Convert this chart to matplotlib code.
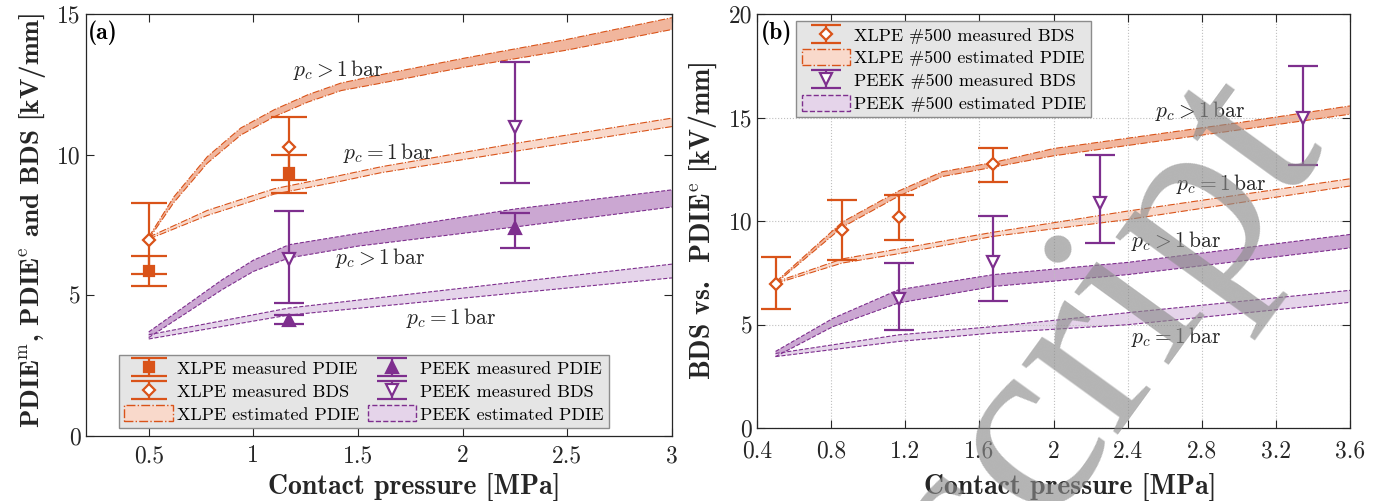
import matplotlib

matplotlib.use("Agg")

import matplotlib.pyplot as plt
from matplotlib.patches import Patch
from matplotlib.ticker import FuncFormatter

plt.rcParams["font.family"] = "serif"
plt.rcParams["font.serif"] = ["cmr10"]
plt.rcParams["mathtext.fontset"] = "cm"
plt.rcParams["axes.unicode_minus"] = False
plt.rcParams["axes.formatter.use_mathtext"] = False

XLPE = "#D95319"
PEEK = "#7E2F8E"
XLPE_HI = "#F1B69D"
XLPE_LO = "#F9D9CB"
PEEK_HI = "#CBA7D2"
PEEK_LO = "#E5D4EA"

# ---------------- panel (a): measured points (value, lower cap, upper cap)
a_xlpe_pdie_x = [0.5, 1.17]
a_xlpe_pdie_y = [5.87, 9.35]
a_xlpe_pdie_lo = [5.33, 8.64]
a_xlpe_pdie_hi = [6.40, 10.00]

a_xlpe_bds_x = [0.5, 1.17]
a_xlpe_bds_y = [6.97, 10.27]
a_xlpe_bds_lo = [5.76, 9.10]
a_xlpe_bds_hi = [8.28, 11.33]

a_peek_pdie_x = [1.17, 2.25]
a_peek_pdie_y = [4.12, 7.40]
a_peek_pdie_lo = [3.98, 6.68]
a_peek_pdie_hi = [4.30, 7.93]

a_peek_bds_x = [1.17, 2.25]
a_peek_bds_y = [6.29, 11.00]
a_peek_bds_lo = [4.73, 9.00]
a_peek_bds_hi = [8.00, 13.30]

# panel (a): estimated PDIE bands
a_xh_x = [0.5, 0.62, 0.78, 0.94, 1.10, 1.26, 1.42, 1.58, 2.0, 2.5, 3.0]
a_xh_up = [7.07, 8.50, 9.93, 10.95, 11.60, 12.13, 12.55, 12.80, 13.42, 14.10, 14.87]
a_xh_dn = [7.00, 8.30, 9.70, 10.70, 11.35, 11.87, 12.28, 12.50, 13.10, 13.72, 14.45]

a_xl_x = [0.5, 0.78, 1.10, 1.42, 1.61, 2.25, 3.0]
a_xl_up = [7.07, 8.02, 8.79, 9.27, 9.57, 10.40, 11.30]
a_xl_dn = [7.00, 7.84, 8.60, 9.06, 9.36, 10.12, 11.00]

a_ph_x = [0.5, 0.85, 1.0, 1.17, 1.5, 2.25, 3.0]
a_ph_up = [3.70, 5.55, 6.25, 6.80, 7.20, 8.07, 8.75]
a_ph_dn = [3.50, 5.20, 5.85, 6.33, 6.75, 7.43, 8.14]

a_pl_x = [0.5, 1.17, 2.25, 3.0]
a_pl_up = [3.60, 4.55, 5.47, 6.11]
a_pl_dn = [3.45, 4.30, 5.08, 5.62]

# ---------------- panel (b): measured BDS
b_xlpe_x = [0.5, 0.86, 1.164, 1.676]
b_xlpe_y = [6.96, 9.55, 10.18, 12.74]
b_xlpe_lo = [5.76, 8.13, 9.10, 11.88]
b_xlpe_hi = [8.25, 11.00, 11.27, 13.53]

b_peek_x = [1.164, 1.676, 2.25, 3.345]
b_peek_y = [6.23, 8.00, 10.88, 15.00]
b_peek_lo = [4.74, 6.13, 8.94, 12.69]
b_peek_hi = [7.97, 10.23, 13.19, 17.47]

# panel (b): estimated PDIE bands
b_xh_x = [0.5, 0.86, 1.164, 1.40, 1.676, 2.0, 3.0, 3.6]
b_xh_up = [7.05, 9.95, 11.45, 12.38, 12.83, 13.50, 14.75, 15.56]
b_xh_dn = [6.98, 9.70, 11.20, 12.15, 12.60, 13.15, 14.40, 15.16]

b_xl_x = [0.5, 0.86, 1.164, 1.676, 2.4, 3.6]
b_xl_up = [7.05, 8.17, 8.65, 9.46, 10.48, 12.04]
b_xl_dn = [6.98, 7.97, 8.42, 9.26, 10.07, 11.69]

b_ph_x = [0.5, 0.81, 1.164, 1.676, 2.4, 3.6]
b_ph_up = [3.70, 5.30, 6.68, 7.41, 8.00, 9.35]
b_ph_dn = [3.45, 4.90, 6.04, 6.84, 7.41, 8.70]

b_pl_x = [0.5, 1.164, 1.676, 2.4, 3.6]
b_pl_up = [3.60, 4.50, 4.90, 5.57, 6.65]
b_pl_dn = [3.45, 4.18, 4.59, 4.99, 6.07]

a_xticks = [0.5, 1, 1.5, 2, 2.5, 3]
a_yticks = [0, 5, 10, 15]
b_xticks = [0.4, 0.8, 1.2, 1.6, 2.0, 2.4, 2.8, 3.2, 3.6]
b_yticks = [0, 5, 10, 15, 20]

BOLD = "cmb10"


def band(ax, x, up, dn, fill, edge, ls):
    ax.fill_between(x, dn, up, facecolor=fill, edgecolor="none", zorder=1)
    ax.plot(x, up, color=edge, ls=ls, lw=0.8, zorder=2)
    ax.plot(x, dn, color=edge, ls=ls, lw=0.8, zorder=2)


def errbar(ax, x, y, lo, hi, color, marker, filled, label, ms=8, cap=10):
    err = [[v - l for v, l in zip(y, lo)], [h - v for v, h in zip(y, hi)]]
    return ax.errorbar(
        x, y, yerr=err, fmt=marker, color=color, ecolor=color,
        mfc=color if filled else "white", mec=color, ms=ms, mew=1.6,
        elinewidth=1.6, capsize=cap, capthick=1.6, zorder=5, label=label,
    )


def style_axes(ax, xpad):
    ax.tick_params(direction="in", which="both", top=True, right=True,
                   length=6, width=0.8, labelsize=17, colors="#262626",
                   labelcolor="#262626")
    ax.tick_params(axis="x", pad=xpad)
    for sp in ax.spines.values():
        sp.set_color("#262626")
        sp.set_linewidth(0.9)
    ax.xaxis.set_major_formatter(FuncFormatter(lambda v, p: f"{v:g}"))
    ax.yaxis.set_major_formatter(FuncFormatter(lambda v, p: f"{v:g}"))


fig = plt.figure(figsize=(13.84, 5.01), dpi=100)
ax1 = fig.add_axes([0.0621, 0.1297, 0.4234, 0.8423])
ax2 = fig.add_axes([0.5470, 0.1457, 0.4284, 0.8263])

# ---------------- panel (a)
band(ax1, a_xh_x, a_xh_up, a_xh_dn, XLPE_HI, XLPE, "-.")
band(ax1, a_xl_x, a_xl_up, a_xl_dn, XLPE_LO, XLPE, "-.")
band(ax1, a_ph_x, a_ph_up, a_ph_dn, PEEK_HI, PEEK, "--")
band(ax1, a_pl_x, a_pl_up, a_pl_dn, PEEK_LO, PEEK, "--")

h1 = errbar(ax1, a_xlpe_pdie_x, a_xlpe_pdie_y, a_xlpe_pdie_lo, a_xlpe_pdie_hi,
            XLPE, "s", True, "XLPE measured PDIE", ms=7, cap=13)
h2 = errbar(ax1, a_xlpe_bds_x, a_xlpe_bds_y, a_xlpe_bds_lo, a_xlpe_bds_hi,
            XLPE, "D", False, "XLPE measured BDS", ms=6.2, cap=13)
h4 = errbar(ax1, a_peek_pdie_x, a_peek_pdie_y, a_peek_pdie_lo, a_peek_pdie_hi,
            PEEK, "^", True, "PEEK measured PDIE", ms=8, cap=11)
h5 = errbar(ax1, a_peek_bds_x, a_peek_bds_y, a_peek_bds_lo, a_peek_bds_hi,
            PEEK, "v", False, "PEEK measured BDS", ms=8, cap=11)
h3 = Patch(facecolor=XLPE_LO, edgecolor=XLPE, linestyle="-.", linewidth=1.0,
           label="XLPE estimated PDIE")
h6 = Patch(facecolor=PEEK_LO, edgecolor=PEEK, linestyle="--", linewidth=1.0,
           label="PEEK estimated PDIE")

ann = dict(fontsize=15.5, va="center", ha="left", color="#262626")
ax1.text(1.19, 13.0, r"$p_c > 1\,\mathrm{bar}$", **ann)
ax1.text(1.43, 10.06, r"$p_c = 1\,\mathrm{bar}$", **ann)
ax1.text(1.39, 6.33, r"$p_c > 1\,\mathrm{bar}$", **ann)
ax1.text(1.73, 4.2, r"$p_c = 1\,\mathrm{bar}$", **ann)
ax1.text(0.004, 0.985, "(a)", transform=ax1.transAxes, fontfamily=BOLD,
         fontsize=17, va="top", ha="left")

ax1.set_xlim(0.2, 3.0)
ax1.set_ylim(0, 15)
ax1.set_xticks(a_xticks)
ax1.set_yticks(a_yticks)
style_axes(ax1, 6.5)
ax1.set_xlabel("Contact pressure [MPa]", fontfamily=BOLD, fontsize=20,
               labelpad=4, color="#262626")
ax1.xaxis.label.set_x(0.56)
ax1.set_ylabel(r"PDIE$^{\mathrm{m}}$, PDIE$^{\mathrm{e}}$ and BDS [kV/mm]",
               fontfamily=BOLD, fontsize=19.5, labelpad=7, color="#262626")
ax1.yaxis.label.set_y(0.51)

leg1 = ax1.legend(handles=[h1, h2, h3, h4, h5, h6], ncol=2, fontsize=13,
                  loc="lower left", bbox_to_anchor=(0.056, 0.019),
                  fancybox=False, framealpha=1, facecolor="#E5E5E5",
                  edgecolor="#8C8C8C", handlelength=2.7, handleheight=1.0,
                  handletextpad=0.2, columnspacing=0.5, labelspacing=0.3,
                  borderpad=0.3, borderaxespad=0)
leg1.get_frame().set_linewidth(1.0)

# ---------------- panel (b)
ax2.grid(True, ls=":", color="#BFBFBF", lw=0.8, zorder=0)
band(ax2, b_xh_x, b_xh_up, b_xh_dn, XLPE_HI, XLPE, "-.")
band(ax2, b_xl_x, b_xl_up, b_xl_dn, XLPE_LO, XLPE, "-.")
band(ax2, b_ph_x, b_ph_up, b_ph_dn, PEEK_HI, PEEK, "--")
band(ax2, b_pl_x, b_pl_up, b_pl_dn, PEEK_LO, PEEK, "--")

g1 = errbar(ax2, b_xlpe_x, b_xlpe_y, b_xlpe_lo, b_xlpe_hi, XLPE, "D", False,
            "XLPE #500 measured BDS", ms=6.2, cap=11)
g3 = errbar(ax2, b_peek_x, b_peek_y, b_peek_lo, b_peek_hi, PEEK, "v", False,
            "PEEK #500 measured BDS", ms=8, cap=11)
g2 = Patch(facecolor=XLPE_LO, edgecolor=XLPE, linestyle="-.", linewidth=1.0,
           label="XLPE #500 estimated PDIE")
g4 = Patch(facecolor=PEEK_LO, edgecolor=PEEK, linestyle="--", linewidth=1.0,
           label="PEEK #500 estimated PDIE")

ax2.text(2.55, 15.3, r"$p_c > 1\,\mathrm{bar}$", **ann)
ax2.text(2.66, 11.77, r"$p_c = 1\,\mathrm{bar}$", **ann)
ax2.text(2.42, 9.02, r"$p_c > 1\,\mathrm{bar}$", **ann)
ax2.text(2.42, 4.42, r"$p_c = 1\,\mathrm{bar}$", **ann)
ax2.text(0.006, 0.985, "(b)", transform=ax2.transAxes, fontfamily=BOLD,
         fontsize=17, va="top", ha="left")

ax2.set_xlim(0.4, 3.6)
ax2.set_ylim(0, 20)
ax2.set_xticks(b_xticks)
ax2.set_yticks(b_yticks)
style_axes(ax2, 9)
ax2.set_xlabel("Contact pressure [MPa]", fontfamily=BOLD, fontsize=20,
               labelpad=7, color="#262626")
ax2.xaxis.label.set_x(0.528)
ax2.set_ylabel(r"BDS vs.  PDIE$^{\mathrm{e}}$ [kV/mm]", fontfamily=BOLD,
               fontsize=20, labelpad=7, color="#262626")

leg2 = ax2.legend(handles=[g1, g2, g3, g4], ncol=1, fontsize=13,
                  loc="upper left", bbox_to_anchor=(0.066, 0.983),
                  fancybox=False, framealpha=1, facecolor="#E5E5E5",
                  edgecolor="#8C8C8C", handlelength=2.7, handleheight=1.0,
                  handletextpad=0.2, labelspacing=0.3, borderpad=0.3,
                  borderaxespad=0)
leg2.get_frame().set_linewidth(1.0)

# grey "Accepted Manuscript" watermark, only its tail shows in the crop
fig.text(984 / 1384, 1 - 603 / 501, "script", fontfamily="Liberation Serif",
         fontsize=186, rotation=54, rotation_mode="anchor",
         ha="left", va="baseline", color="#8C8C8C", alpha=0.65, zorder=20)

fig.savefig("out.png", dpi=100)
